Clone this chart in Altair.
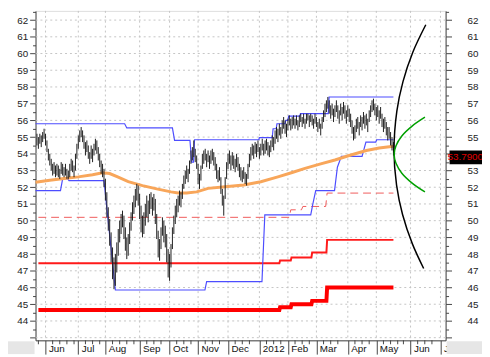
import altair as alt
import pandas as pd

# ---------------- data (trading-day index i, price v) ----------------
hi = [55.2, 55.0, 55.2, 55.1, 55.3, 55.5, 55.2, 54.8, 54.3, 54.0,
      53.7, 53.4, 53.5, 53.3, 53.4, 53.3, 53.1, 53.5, 53.4, 53.2,
      53.4, 53.1, 53.0, 53.4, 53.7, 53.6, 53.3, 54.0, 54.6, 55.1,
      55.4, 55.6, 55.4, 55.1, 54.7, 54.8, 54.5, 54.1, 54.5, 54.3,
      54.6, 54.9, 54.8, 54.4, 54.0, 53.6, 53.4, 53.1, 52.5, 51.7,
      50.8, 50.1, 49.3, 48.4, 47.8, 48.0, 48.7, 49.5, 50.0, 50.4,
      50.6, 50.3, 49.6, 49.0, 49.2, 49.9, 50.5, 51.1, 51.5, 51.9,
      52.2, 52.1, 51.6, 50.9, 50.3, 50.5, 51.0, 51.5, 51.2, 51.6,
      51.7, 51.4, 51.6, 51.3, 50.4, 49.4, 48.9, 49.6, 50.2, 50.0,
      49.7, 49.2, 48.3, 48.0, 48.6, 49.6, 50.3, 50.9, 51.3, 51.5,
      51.8, 51.7, 52.2, 52.7, 53.0, 53.3, 53.1, 53.6, 54.2, 54.4,
      54.8, 54.3, 53.9, 53.4, 52.8, 53.3, 54.0, 54.2, 54.3, 54.0,
      54.2, 53.9, 54.2, 54.3, 54.1, 53.8, 53.4, 53.0, 53.2, 52.6,
      51.9, 51.5, 52.6, 53.5, 54.0, 54.2, 53.9, 54.1, 53.9, 53.7,
      54.0, 53.8, 53.4, 53.2, 53.0, 53.2, 52.9, 52.8, 53.4, 54.0,
      54.4, 54.6, 54.5, 54.7, 54.6, 54.8, 54.4, 54.6, 54.9, 54.6,
      54.8, 54.9, 54.7, 54.5, 54.8, 55.1, 55.0, 55.4, 55.6, 55.5,
      55.8, 55.6, 56.0, 56.2, 56.0, 55.8, 56.1, 56.3, 56.1, 56.2,
      56.3, 56.1, 56.3, 56.0, 56.3, 56.4, 56.2, 56.4, 56.1, 56.4,
      56.4, 56.3, 56.4, 56.3, 56.1, 56.4, 56.2, 55.9, 56.1, 55.8,
      56.2, 56.6, 57.0, 57.2, 57.4, 57.2, 56.9, 57.0, 56.7, 56.9,
      57.2, 56.9, 56.6, 57.0, 56.8, 57.1, 56.9, 56.6, 56.9, 56.7,
      56.4, 56.0, 55.6, 55.7, 56.1, 56.2, 55.9, 56.3, 56.2, 56.5,
      56.3, 56.4, 56.1, 56.6, 56.9, 57.2, 57.3, 57.0, 56.8, 56.9,
      56.6, 56.8, 56.4, 56.1, 56.2, 55.9, 55.6, 55.6, 55.3, 55.0, 54.7]
lo = [54.5, 54.3, 54.6, 54.4, 54.7, 54.9, 54.5, 54.1, 53.6, 53.3,
      53.0, 52.7, 52.8, 52.6, 52.7, 52.6, 52.5, 52.8, 52.7, 52.6,
      52.7, 52.5, 52.5, 52.6, 53.0, 52.9, 52.6, 53.0, 53.7, 54.3,
      54.7, 55.0, 54.7, 54.3, 53.9, 54.1, 53.7, 53.4, 53.7, 53.5,
      53.9, 54.2, 54.0, 53.6, 53.2, 52.8, 52.6, 52.0, 51.2, 50.2,
      49.4, 48.5, 47.5, 46.5, 45.9, 46.1, 46.9, 47.9, 48.7, 49.2,
      49.6, 48.9, 48.2, 47.7, 47.9, 48.6, 49.4, 50.0, 50.4, 50.8,
      51.2, 50.9, 50.1, 49.3, 49.0, 49.2, 49.7, 50.2, 49.9, 50.4,
      50.7, 50.3, 50.6, 49.8, 48.9, 47.8, 47.6, 48.3, 49.1, 48.7,
      48.4, 47.5, 46.6, 46.4, 47.2, 48.3, 49.2, 49.8, 50.2, 50.5,
      50.9, 50.8, 51.3, 51.9, 52.2, 52.5, 52.3, 52.8, 53.4, 53.6,
      53.8, 53.5, 53.1, 52.2, 51.9, 52.4, 53.1, 53.4, 53.6, 53.2,
      53.5, 53.1, 53.4, 53.6, 53.3, 53.0, 52.5, 52.3, 52.4, 51.6,
      50.9, 50.3, 51.3, 52.5, 53.1, 53.4, 53.0, 53.3, 53.1, 52.9,
      53.2, 53.0, 52.6, 52.4, 52.3, 52.5, 52.2, 52.1, 52.5, 53.2,
      53.6, 53.9, 53.7, 54.0, 53.8, 54.1, 53.7, 53.9, 54.2, 53.9,
      54.0, 54.2, 53.9, 53.8, 54.1, 54.4, 54.2, 54.6, 54.9, 54.7,
      55.1, 54.9, 55.2, 55.5, 55.2, 55.0, 55.4, 55.7, 55.4, 55.5,
      55.7, 55.5, 55.7, 55.4, 55.6, 55.9, 55.6, 55.8, 55.5, 55.8,
      56.0, 55.6, 55.9, 55.7, 55.5, 55.8, 55.6, 55.3, 55.5, 55.1,
      55.5, 55.9, 56.2, 56.5, 56.7, 56.4, 56.1, 56.3, 55.9, 56.2,
      56.5, 56.1, 55.8, 56.3, 56.0, 56.4, 56.1, 55.8, 56.2, 55.9,
      55.6, 55.2, 54.8, 54.9, 55.3, 55.5, 55.1, 55.6, 55.4, 55.8,
      55.5, 55.7, 55.3, 55.9, 56.2, 56.5, 56.6, 56.3, 56.0, 56.2,
      55.8, 56.1, 55.6, 55.3, 55.5, 55.1, 54.8, 54.9, 54.5, 54.2, 53.9]
last_close = 53.79

month_idx = [7, 30, 49, 73, 94, 114, 135, 157, 177, 197, 219, 239, 263, 284]
month_lbl = ["Jun", "Jul", "Aug", "Sep", "Oct", "Nov", "Dec", "2012",
             "Feb", "Mar", "Apr", "May", "Jun", "J"]
week_idx = [2, 12, 17, 22, 27, 35, 40, 45, 54, 59, 64, 69, 78, 83, 88, 99, 104,
            109, 119, 124, 129, 140, 145, 150, 162, 167, 172, 182, 187, 192,
            202, 207, 212, 224, 229, 234, 244, 249, 254, 258, 268, 273, 278]
y_ticks = [43 + 0.5 * k for k in range(40)]
y_grid = list(range(43, 63))

# upper channel (blue)
ub_i = [0, 62.5, 64, 96, 97.5, 108.3, 109.5, 110.8, 111.5, 156.6, 157.0, 166.0,
        166.6, 168.8, 169.3, 175.0, 175.5, 177.0, 177.5, 185.3, 185.8, 205.3, 205.9, 251]
ub_v = [55.8, 55.8, 55.55, 55.55, 54.8, 54.8, 53.5, 53.5, 54.84, 54.84, 54.97, 54.97,
        55.5, 55.5, 55.8, 55.8, 56.0, 56.0, 56.25, 56.25, 56.4, 56.4, 57.4, 57.4]
# lower channel (blue)
lb_i = [0, 17.5, 19.0, 22.5, 23.5, 48, 56, 118.8, 120.0, 158.8, 160.8, 193.0,
        194.5, 196.5, 209.7, 211.7, 214.5, 229.0, 231.7, 238.6, 239.3, 251]
lb_v = [51.8, 51.8, 52.5, 52.5, 52.4, 52.4, 45.85, 45.85, 46.35, 46.35, 50.35, 50.35,
        51.0, 51.8, 51.8, 53.2, 53.85, 53.85, 54.7, 54.7, 54.84, 54.84]
# moving average (orange)
ma_i = [0, 10, 20, 30, 40, 47, 52, 58, 65, 75, 85, 95, 100, 106, 113, 121, 133,
        146, 158, 170, 180, 189, 200, 210, 220, 232, 241, 251]
ma_v = [52.3, 52.42, 52.52, 52.62, 52.75, 52.86, 52.82, 52.6, 52.33, 52.1, 51.9,
        51.72, 51.66, 51.65, 51.72, 51.93, 52.03, 52.13, 52.33, 52.62, 52.88, 53.13,
        53.4, 53.63, 53.9, 54.2, 54.35, 54.45]
# red dashed stop
rd_i = [2, 178, 179, 186.5, 187.5, 203.5, 204.5, 251]
rd_v = [50.2, 50.2, 50.65, 50.65, 50.85, 50.85, 51.65, 51.65]
# red thin stop
rt_i = [2, 171, 171.5, 179, 179.5, 193.5, 194, 204, 204.5, 251]
rt_v = [47.45, 47.45, 47.62, 47.62, 47.8, 47.8, 48.1, 48.1, 48.85, 48.85]
# red thick stop
rk_i = [2, 171, 171.5, 179, 179.5, 193.5, 194, 204, 204.5, 251]
rk_v = [44.65, 44.65, 44.82, 44.82, 45.0, 45.0, 45.2, 45.2, 46.0, 46.0]
# black arc
ak_i = [273.7, 264.6, 257.7, 253.4, 251.4, 253.2, 257.4, 264.3, 272.2]
ak_v = [61.72, 60.08, 58.32, 56.55, 54.19, 52.13, 50.37, 48.61, 47.14]
# green arc
ag_i = [273.1, 264.1, 256.9, 252.8, 251.5, 252.8, 256.9, 264.1, 273.1]
ag_v = [56.19, 55.66, 55.07, 54.48, 53.96, 53.43, 52.84, 52.25, 51.72]

# ---------------- chart ----------------
W, H = 417, 335
FONT = "Liberation Sans"
xs = alt.Scale(domain=[0, 287.6], nice=False, zero=False)
ys = alt.Scale(domain=[42.84, 62.55], nice=False, zero=False)

lbl_js = "[" + ",".join(f"'{m}'" for m in month_lbl) + "]"
idx_js = "[" + ",".join(str(v) for v in month_idx) + "]"
x_axis = alt.Axis(values=month_idx, labelExpr=f"{lbl_js}[indexof({idx_js}, datum.value)]",
                  tickSize=14, tickColor="#444", domainColor="#444", labelAlign="left",
                  labelBaseline="top", labelPadding=-11, labelOffset=3, labelFont=FONT,
                  labelFontSize=10, labelColor="#111", grid=False, title=None,
                  labelFlush=False, labelOverlap=False, labelBound=False)
ytick = {"condition": {"test": "datum.value % 1 != 0", "value": 3}, "value": 6}
ylab = "datum.value % 1 == 0 && datum.value >= 44 ? datum.value : ''"
ylab_r = (f"datum.value % 1 == 0 && datum.value >= 44 && abs(datum.value - {last_close}) > 0.5"
          " ? datum.value : ''")
y_axis_l = alt.Axis(values=y_ticks, labelExpr=ylab, tickSize=ytick, tickColor="#444",
                    domainColor="#444", labelPadding=2, labelFont=FONT, labelFontSize=10,
                    labelColor="#222", grid=False, title=None, labelOverlap=False,
                    labelFlush=False)
y_axis_r = alt.Axis(values=y_ticks, labelExpr=ylab_r, tickSize=ytick, tickColor="#444",
                    domainColor="#444", orient="right", labelAlign="right", labelPadding=27,
                    labelFont=FONT, labelFontSize=10, labelColor="#222", grid=False,
                    title=None, labelOverlap=False, labelFlush=False)


def X(f):
    return alt.X(f, type="quantitative", scale=xs, axis=x_axis)


def Y(f, axis=y_axis_l):
    return alt.Y(f, type="quantitative", scale=ys, axis=axis)


def line_df(ii, vv):
    return pd.DataFrame({"i": ii, "v": vv, "s": list(range(len(ii)))})


one = pd.DataFrame({"a": [0]})

hgrid = alt.Chart(pd.DataFrame({"v": y_grid})).mark_rule(
    color="#c4c4c4", strokeDash=[2, 3], strokeWidth=1).encode(y=Y("v"))
vgrid = alt.Chart(pd.DataFrame({"i": month_idx})).mark_rule(
    color="#c4c4c4", strokeDash=[2, 3], strokeWidth=1).encode(x=X("i"))
strip_l = alt.Chart(one).mark_rect(color="#e6e6e6").encode(
    x=alt.value(-28), x2=alt.value(-1), y=alt.value(H + 1), y2=alt.value(H + 14))
strip_r = alt.Chart(one).mark_rect(color="#e6e6e6").encode(
    x=alt.value(W + 1), x2=alt.value(W + 40), y=alt.value(H + 1), y2=alt.value(H + 14))
minor = alt.Chart(pd.DataFrame({"i": week_idx})).mark_rule(
    color="#444", strokeWidth=1).encode(x=X("i"), y=alt.value(H), y2=alt.value(H + 4))


def path(ii, vv, **kw):
    return alt.Chart(line_df(ii, vv)).mark_line(**kw).encode(
        x=X("i"), y=Y("v"), order=alt.Order("s:Q"))


red_thick = path(rk_i, rk_v, color="#ff0000", strokeWidth=4)
red_thin = path(rt_i, rt_v, color="#ff1a1a", strokeWidth=2)
red_dash = path(rd_i, rd_v, color="#f05a5a", strokeWidth=1, strokeDash=[8, 5])
lower = path(lb_i, lb_v, color="#4d4dff", strokeWidth=1.2)
upper = path(ub_i, ub_v, color="#4d4dff", strokeWidth=1.2)
ma = path(ma_i, ma_v, color="#f8a65a", strokeWidth=3)

bars = alt.Chart(pd.DataFrame({"i": list(range(1, len(hi) + 1)), "hi": hi, "lo": lo})
                 ).mark_rule(color="#1e1e1e", strokeWidth=1).encode(
    x=X("i"), y=Y("lo"), y2="hi")

arc_k = path(ak_i, ak_v, color="#000000", strokeWidth=1.5, interpolate="catmull-rom")
arc_g = path(ag_i, ag_v, color="#00a000", strokeWidth=1.5, interpolate="catmull-rom")

last = pd.DataFrame({"v": [last_close]})
box = alt.Chart(last).mark_rect(color="#000000", height=14).encode(
    x=alt.value(W + 4), x2=alt.value(W + 37), y=Y("v"))
box_txt = alt.Chart(last).mark_text(color="#e00000", font=FONT, fontSize=10,
                                    align="center", baseline="middle").encode(
    x=alt.value(W + 20), y=Y("v"), text=alt.Text("v:Q", format=".4f"))

main = alt.layer(hgrid, vgrid, strip_l, strip_r, minor, red_thick, red_thin, red_dash,
                 lower, upper, ma, bars, arc_k, arc_g, box, box_txt)
right = alt.Chart(pd.DataFrame({"v": y_grid})).mark_point(opacity=0).encode(
    x=alt.value(0), y=Y("v", axis=y_axis_r))

chart = alt.layer(main, right).resolve_axis(y="independent").properties(
    width=W, height=H,
    autosize=alt.AutoSizeParams(type="none"),
    padding={"left": 28, "top": 0, "right": 37, "bottom": 14},
).configure_view(stroke=None).configure(background="white")

chart.save("out.html", embed_options={"renderer": "svg", "actions": False})
